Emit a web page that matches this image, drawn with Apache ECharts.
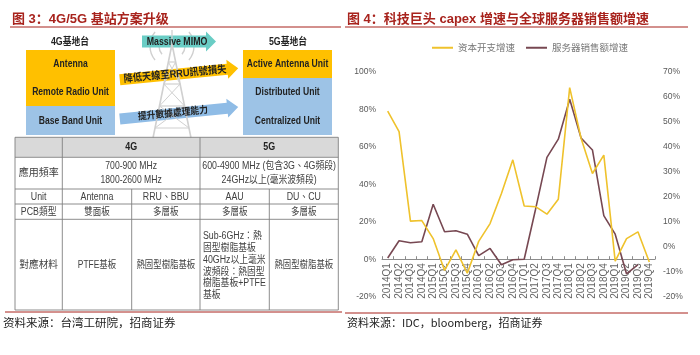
<!DOCTYPE html>
<html><head><meta charset="utf-8">
<script src="https://cdn.jsdelivr.net/npm/echarts@6/dist/echarts.min.js"></script>
<style>html,body{margin:0;padding:0;background:#fff}#c{width:700px;height:355px}</style>
</head><body><div id="c"></div>
<script>
// ---------- data ----------
const categories = ['2014Q1','2014Q2','2014Q3','2014Q4','2015Q1','2015Q2','2015Q3','2015Q4',
  '2016Q1','2016Q2','2016Q3','2016Q4','2017Q1','2017Q2','2017Q3','2017Q4',
  '2018Q1','2018Q2','2018Q3','2018Q4','2019Q1','2019Q2','2019Q3','2019Q4'];
const capexGrowth  = [79, 68, 20.3, 20.6, 11, -6, 5, -7.5, 9.5, 19, 35, 53, 28.4, 28, 24, 32, 91.5, 64.5, 45.7, 55.5, -1, 11, 14.6, -1.5];
const serverGrowth = [-4.5, 2.4, 1.6, 2, 17, 6, 6.4, 5, -3.6, -0.7, -7.2, -5.2, -5, 15, 35.7, 43, 59, 43.5, 38.7, 12.4, 5, -10.9, -7.2, null];
const seriesNames = ['资本开支增速', '服务器销售额增速'];
const leftAxisRange = [-20, 100, 20];
const rightAxisRange = [-20, 70, 10];

const titleLeft = '图 3：4G/5G 基站方案升级';
const titleRight = '图 4：科技巨头 capex 增速与全球服务器销售额增速';
const sourceLeft = '资料来源：台湾工研院，招商证券';
const sourceRight = '资料来源：IDC，bloomberg，招商证券';

const box4G = ['Antenna', 'Remote Radio Unit', 'Base Band Unit'];
const box5G = ['Active Antenna Unit', 'Distributed Unit', 'Centralized Unit'];
const stationLabels = ['4G基地台', '5G基地台'];
const arrowLabels = ['Massive MIMO', '降低天線至RRU訊號損失', '提升數據處理能力'];

const tableHeader = ['', '4G', '5G'];
const rowFreq = ['應用頻率', '700-900 MHz\n1800-2600 MHz', '600-4900 MHz (包含3G、4G頻段)\n24GHz以上(毫米波頻段)'];
const rowUnit = ['Unit', 'Antenna', 'RRU、BBU', 'AAU', 'DU、CU'];
const rowPcb  = ['PCB類型', '雙面板', '多層板', '多層板', '多層板'];
const rowMat  = ['對應材料', 'PTFE基板', '熱固型樹脂基板', 'Sub-6GHz：熱\n固型樹脂基板\n40GHz以上毫米\n波頻段：熱固型\n樹脂基板+PTFE\n基板', '熱固型樹脂基板'];

// ---------- styles ----------
const RED = '#A8231D';
const SANS = "'Liberation Sans','Noto Sans CJK TC',sans-serif";
const SANS_SC = "'Liberation Sans','Noto Sans CJK SC',sans-serif";
const CJK = "'Noto Sans CJK SC','Liberation Sans',sans-serif";
const ORANGE = '#FFC000', BLUE = '#9DC3E6', TEAL = '#6ACDC5';

function txt(x, y, text, o) {
  o = o || {};
  return { type: 'text', x: x, y: y, silent: true, z: o.z || 20, scaleX: o.sx || 1,
    style: { text: text, fill: o.fill || '#333', fontSize: o.size || 10, fontWeight: o.weight || 'normal',
      fontFamily: o.family || SANS, textAlign: o.align || 'center', textVerticalAlign: o.valign || 'middle',
      lineHeight: o.lh || undefined } };
}
function rect(x, y, w, h, fill, z) {
  return { type: 'rect', silent: true, z: z || 5, shape: { x: x, y: y, width: w, height: h }, style: { fill: fill } };
}
function seg(x1, y1, x2, y2, color, w, z) {
  return { type: 'line', silent: true, z: z || 15, shape: { x1: x1, y1: y1, x2: x2, y2: y2 }, style: { stroke: color, lineWidth: w || 1 } };
}
function arrow(cx, cy, len, bodyH, headLen, headH, rot, fill, label, labelDx, sx, size) {
  const a = len / 2;
  return { type: 'group', x: cx, y: cy, rotation: rot, z: 10, children: [
    { type: 'polygon', silent: true, z: 10, shape: { points: [[-a, -bodyH / 2], [a - headLen, -bodyH / 2], [a - headLen, -headH / 2], [a, 0],
      [a - headLen, headH / 2], [a - headLen, bodyH / 2], [-a, bodyH / 2]] }, style: { fill: fill } },
    txt(labelDx || 0, 0, label, { size: size || 10.5, weight: 'bold', fill: '#222', sx: sx })
  ] };
}

const g = [];
// background tower (faint) - drawn first, lowest z
const TW = '#d0d0d0';
g.push(seg(172, 30, 172, 50, TW, 1.3, 0));
g.push(seg(172, 44, 153, 138, TW, 1.6, 0));
g.push(seg(172, 44, 191, 138, TW, 1.6, 0));
[[62, 168.4, 175.6], [84, 163.9, 180.1], [106, 159.5, 184.5], [128, 155, 189]].forEach(function (b) {
  g.push(seg(b[1], b[0], b[2], b[0], TW, 1.2, 0));
});
g.push(seg(168.4, 62, 180.1, 84, TW, 1, 0));
g.push(seg(175.6, 62, 163.9, 84, TW, 1, 0));
g.push(seg(163.9, 84, 184.5, 106, TW, 1, 0));
g.push(seg(180.1, 84, 159.5, 106, TW, 1, 0));
g.push(seg(159.5, 106, 189, 128, TW, 1, 0));
g.push(seg(184.5, 106, 155, 128, TW, 1, 0));
[13, 22].forEach(function (r) {
  g.push({ type: 'arc', silent: true, z: 0, shape: { cx: 172, cy: 46, r: r, startAngle: Math.PI * 0.78, endAngle: Math.PI * 1.22 }, style: { stroke: TW, lineWidth: 1.4, fill: null } });
  g.push({ type: 'arc', silent: true, z: 0, shape: { cx: 172, cy: 46, r: r, startAngle: -Math.PI * 0.22, endAngle: Math.PI * 0.22 }, style: { stroke: TW, lineWidth: 1.4, fill: null } });
});

// titles & rules
g.push(txt(12, 19, titleLeft, { size: 13, weight: 'bold', fill: RED, family: SANS_SC, align: 'left' }));
g.push(txt(347, 19, titleRight, { size: 13, weight: 'bold', fill: RED, family: SANS_SC, align: 'left' }));
g.push(seg(10, 27, 341, 27, RED, 1.2));
g.push(seg(345, 27, 688, 27, RED, 1.2));
g.push(seg(5, 312, 342, 312, RED, 1));
g.push(seg(345, 313, 688, 313, RED, 1));
g.push(txt(3, 323, sourceLeft, { size: 11.5, family: CJK, align: 'left', fill: '#222' }));
g.push(txt(347, 323, sourceRight, { size: 11, family: CJK, align: 'left', fill: '#222' }));

// 4G / 5G station boxes
g.push(txt(70, 42, stationLabels[0], { size: 10, weight: 'bold', fill: '#222', sx: 0.88 }));
g.push(txt(288, 42, stationLabels[1], { size: 10, weight: 'bold', fill: '#222', sx: 0.88 }));
g.push(rect(26, 50, 89, 56, ORANGE));
g.push(rect(26, 106, 89, 29, BLUE));
g.push(rect(243, 50, 89, 28, ORANGE));
g.push(rect(243, 78, 89, 57, BLUE));
[64, 92, 121].forEach(function (y, i) {
  g.push(txt(70.5, y, box4G[i], { size: 11, weight: 'bold', fill: '#222', sx: 0.78 }));
  g.push(txt(287.5, y, box5G[i], { size: 11, weight: 'bold', fill: '#222', sx: 0.78 }));
});
// arrows
g.push(arrow(179, 41.5, 74, 12, 10, 20, 0, TEAL, arrowLabels[0], -2, 0.8, 11));
g.push(arrow(179, 74, 119, 11, 11, 19, 0.097, ORANGE, arrowLabels[1], -4, 0.88, 10.5));
g.push(arrow(179, 113, 119, 11, 11, 19, 0.1, '#8FBCE6', arrowLabels[2], -6, 0.88, 10));

// table
const X = [15, 62.3, 131.7, 200, 269.3, 338.3];
const Y = [137.3, 157.3, 189, 204, 219.3, 310];
const TL = '#808080';
g.push(rect(X[0], Y[0], X[5] - X[0], Y[1] - Y[0], '#D9D9D9', 4));
g.push(rect(X[0], Y[1], X[5] - X[0], Y[5] - Y[1], '#ffffff', 4));
Y.forEach(function (y) { g.push(seg(X[0], y, X[5], y, TL, 0.9)); });
[0, 1, 3, 5].forEach(function (i) { g.push(seg(X[i], Y[0], X[i], Y[5], TL, 0.9)); });
[2, 4].forEach(function (i) { g.push(seg(X[i], Y[2], X[i], Y[5], TL, 0.9)); });
const c1 = (X[0] + X[1]) / 2, c4G = (X[1] + X[3]) / 2, c5G = (X[3] + X[5]) / 2;
const cc = [c1, (X[1] + X[2]) / 2, (X[2] + X[3]) / 2, (X[3] + X[4]) / 2, (X[4] + X[5]) / 2];
const TC = '#404040';
g.push(txt(c4G, 147.5, tableHeader[1], { size: 10.5, weight: 'bold', fill: '#222', sx: 0.85 }));
g.push(txt(c5G, 147.5, tableHeader[2], { size: 10.5, weight: 'bold', fill: '#222', sx: 0.85 }));
g.push(txt(c1, 173, rowFreq[0], { size: 10, fill: TC }));
g.push(txt(c4G, 173, rowFreq[1], { size: 10.5, fill: TC, lh: 14.5, sx: 0.82 }));
g.push(txt(c5G, 173, rowFreq[2], { size: 10.5, fill: TC, lh: 14.5, sx: 0.84 }));
rowUnit.forEach(function (t, i) { g.push(txt(cc[i], 196.8, t, { size: 10.5, fill: TC, sx: 0.84 })); });
rowPcb.forEach(function (t, i) { g.push(txt(cc[i], 212, t, { size: 10, fill: TC, sx: i === 0 ? 0.88 : 0.85 })); });
rowMat.forEach(function (t, i) {
  if (i === 3) g.push(txt(X[3] + 3, 266, t, { size: 10, fill: TC, align: 'left', lh: 11.8, sx: 0.88 }));
  else g.push(txt(cc[i], 265, t, { size: 10, fill: TC, sx: i === 0 ? 0.97 : 0.84 }));
});

// ---------- chart ----------
const chart = echarts.init(document.getElementById('c'), null, { renderer: 'canvas' });
const axisLblColor = '#595959';
chart.setOption({
  animation: false,
  backgroundColor: '#fff',
  legend: {
    top: 38, left: 427, itemGap: 11, itemWidth: 21, itemHeight: 2, icon: 'rect',
    textStyle: { fontSize: 9.5, color: '#777', fontFamily: CJK },
    data: seriesNames
  },
  grid: { left: 382, right: 45, top: 71.7, height: 225 },
  xAxis: {
    type: 'category', data: categories, boundaryGap: true, offset: -37.5,
    axisLine: { onZero: false, lineStyle: { color: '#8c8c8c', width: 1 } },
    axisTick: { show: true, inside: true, length: 3, lineStyle: { color: '#8c8c8c' } },
    axisLabel: { rotate: 90, interval: 0, fontSize: 10, color: '#666', margin: 4, fontFamily: "'Liberation Sans',sans-serif" },
    splitLine: { show: false }
  },
  yAxis: [
    { type: 'value', min: leftAxisRange[0], max: leftAxisRange[1], interval: leftAxisRange[2],
      axisLine: { show: false }, axisTick: { show: false }, splitLine: { show: false },
      axisLabel: { formatter: '{value}%', fontSize: 8.5, color: axisLblColor, margin: 6, fontFamily: SANS } },
    { type: 'value', min: rightAxisRange[0], max: rightAxisRange[1], interval: rightAxisRange[2],
      axisLine: { show: false }, axisTick: { show: false }, splitLine: { show: false },
      axisLabel: { formatter: '{value}%', fontSize: 8.5, color: axisLblColor, margin: 8, fontFamily: SANS } }
  ],
  series: [
    { name: seriesNames[0], type: 'line', data: capexGrowth, yAxisIndex: 0, symbol: 'none',
      itemStyle: { color: '#EFC22C' }, lineStyle: { color: '#EFC22C', width: 1.6 }, z: 3 },
    { name: seriesNames[1], type: 'line', data: serverGrowth, yAxisIndex: 1, symbol: 'none',
      itemStyle: { color: '#774852' }, lineStyle: { color: '#774852', width: 1.6 }, z: 2 }
  ],
  graphic: g
});
</script></body></html>
